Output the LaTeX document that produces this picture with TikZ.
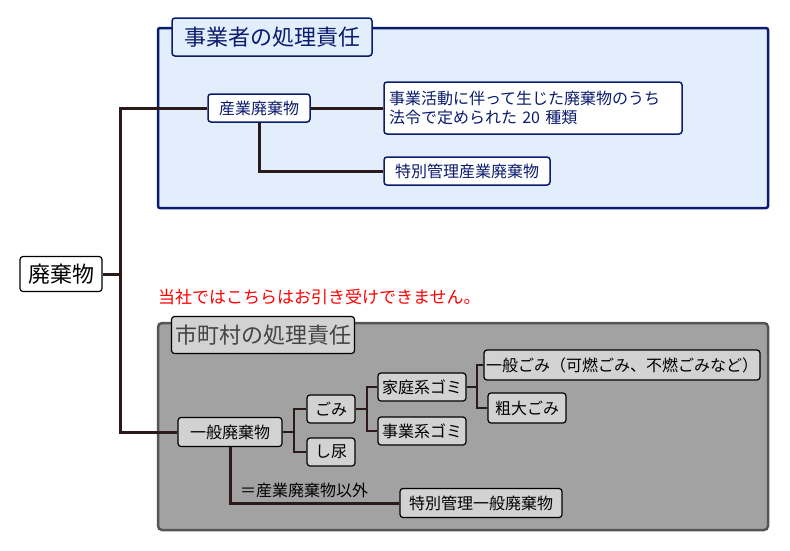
\documentclass[tikz,border=0pt]{standalone}
\usepackage{fontspec}
\setmainfont{Noto Sans CJK JP}
\definecolor{navy}{HTML}{0B1C6E}
\definecolor{lightblue}{HTML}{E2EEFB}
\definecolor{trunk}{HTML}{2A1A1A}
\definecolor{boxgray}{HTML}{A2A2A2}
\definecolor{tabgray}{HTML}{D2D2D2}
\definecolor{edgegray}{HTML}{555555}
\tikzset{
  blue box/.style={draw=navy,line width=1.5pt,rounded corners=3pt,fill=white,text=navy,font=\fontsize{16}{19}\selectfont,inner sep=2pt},
  gray box/.style={draw=black,line width=1.2pt,rounded corners=3pt,fill=tabgray,font=\fontsize{16}{19}\selectfont,inner sep=2pt},
  link/.style={draw=trunk,line width=3pt}
}
\begin{document}
\begin{tikzpicture}[x=1pt,y=-1pt]
\useasboundingbox (0,0) rectangle (790,550);
    %事業者
    \draw[navy,line width=2.5pt,fill=lightblue,rounded corners=2pt] (158,28) rectangle (768,208);
    \node[blue box,fill=lightblue,minimum width=200,minimum height=38,font=\fontsize{22}{26}\selectfont] (tabA) at (272,37) {事業者の処理責任};
    \node[blue box,minimum width=102,minimum height=28] (sangyo) at (259,108) {産業廃棄物};
    \node[blue box,minimum width=298,minimum height=52,align=left,text width=288] (teigi) at (533,108) {事業活動に伴って生じた廃棄物のうち\\法令で定められた 20 種類};
    \node[blue box,minimum width=166,minimum height=28] (tokuA) at (467,171) {特別管理産業廃棄物};

    %市町村
    \draw[edgegray,line width=2.5pt,fill=boxgray,rounded corners=4pt] (158,323) rectangle (768,530);
    \node[gray box,minimum width=183,minimum height=37,font=\fontsize{22}{26}\selectfont,text=edgegray!80!black] (tabB) at (263,335) {市町村の処理責任};
    \node[gray box,minimum width=104,minimum height=29] (ippan) at (230,432) {一般廃棄物};
    \node[gray box,minimum width=48,minimum height=28] (gomi) at (331,409) {ごみ};
    \node[gray box,minimum width=48,minimum height=28] (shinyo) at (331,452) {し尿};
    \node[gray box,minimum width=88,minimum height=28] (katei) at (422,387) {家庭系ゴミ};
    \node[gray box,minimum width=88,minimum height=28] (jigyo) at (422,431) {事業系ゴミ};
    \node[gray box,minimum width=268,minimum height=30] (futsu) at (622,365) {一般ごみ（可燃ごみ、不燃ごみなど）};
    \node[gray box,minimum width=78,minimum height=30] (sodai) at (527,408) {粗大ごみ};
    \node[gray box,minimum width=162,minimum height=29] (tokuB) at (481,503) {特別管理一般廃棄物};
    \node[anchor=west,font=\fontsize{16}{19}\selectfont,inner sep=0] (igai) at (240,490) {＝産業廃棄物以外};

    %廃棄物
    \node[gray box,fill=white,minimum width=82,minimum height=35,font=\fontsize{22}{26}\selectfont] (haiki) at (61,274) {廃棄物};
    \node[anchor=west,text=red,font=\fontsize{17}{20}\selectfont,inner sep=0] (note) at (158,297) {当社ではこちらはお引き受けできません。};

    %接続線
    \draw[link] (haiki.east) -- (120,274);
    \draw[link] (sangyo.west) -| (120,432) -- (ippan.west);
    \draw[link] (sangyo.east) -- (teigi.west |- sangyo.east);
    \draw[link] (sangyo.south) |- (tokuA.west);
    \draw[link,line width=2pt] (ippan.east) -- (294,432);
    \draw[link,line width=2pt] (gomi.west) -| (294,452) -- (shinyo.west);
    \draw[link,line width=2pt] (gomi.east) -- (367,409);
    \draw[link,line width=2pt] (katei.west) -| (367,431) -- (jigyo.west);
    \draw[link,line width=2pt] (katei.east) -- (477,387);
    \draw[link,line width=2pt] (futsu.west) -| (477,408) -- (sodai.west);
    \draw[link] (ippan.south) |- (tokuB.west);
\end{tikzpicture}
\end{document}
